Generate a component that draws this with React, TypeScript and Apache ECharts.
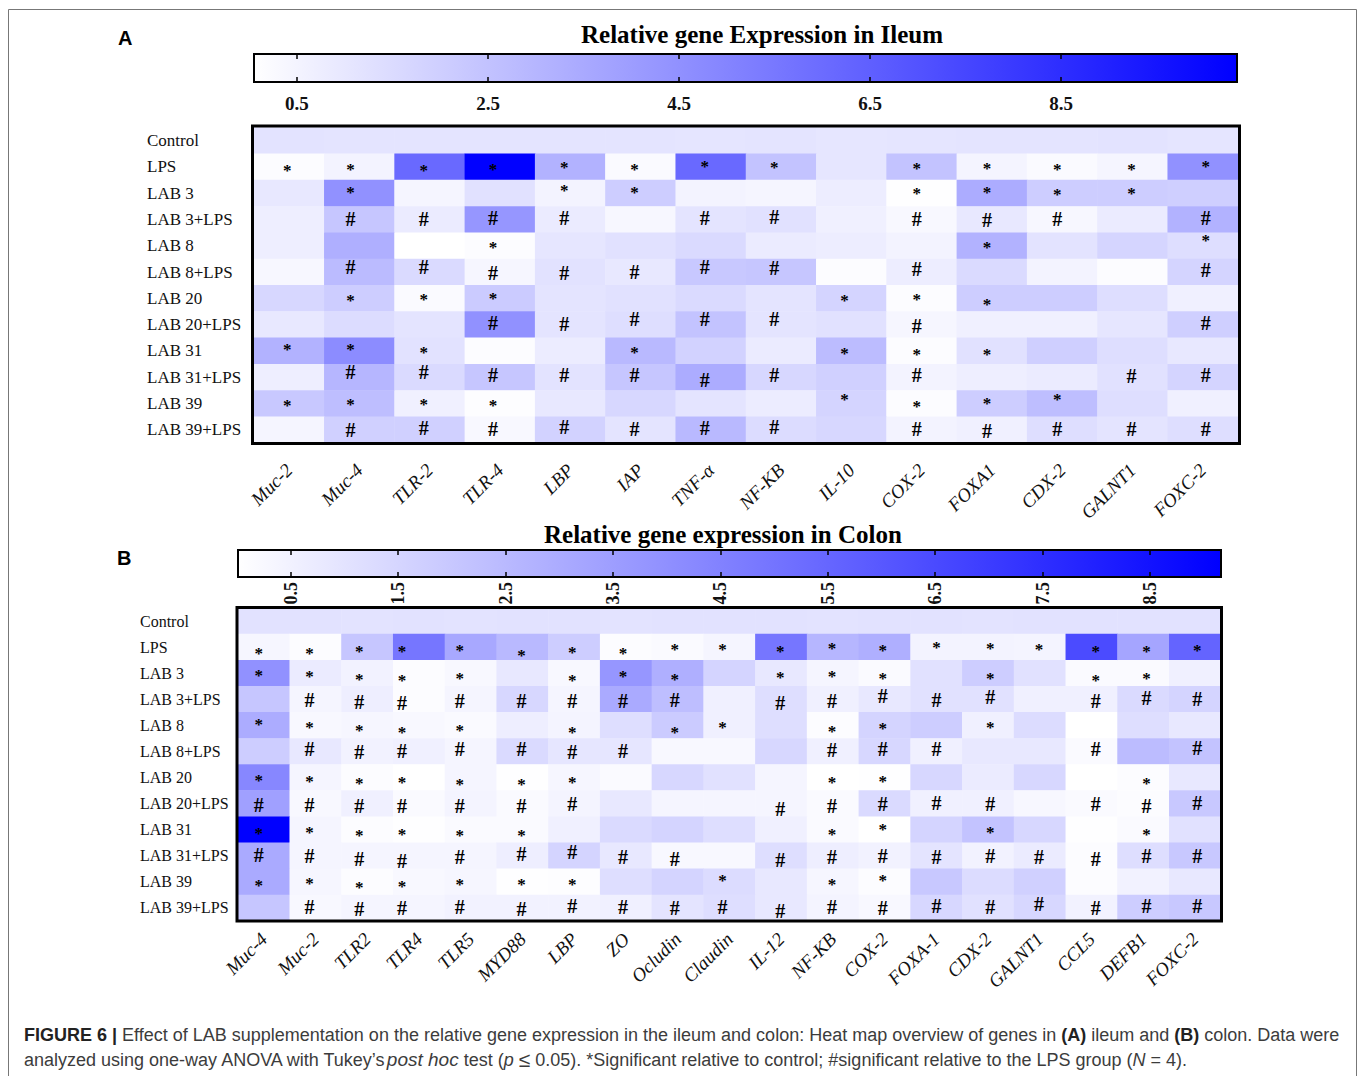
import React, { useEffect, useRef } from "react";
import * as echarts from "echarts";

const rowLabels = ["Control","LPS","LAB 3","LAB 3+LPS","LAB 8","LAB 8+LPS","LAB 20","LAB 20+LPS","LAB 31","LAB 31+LPS","LAB 39","LAB 39+LPS"];
const ileumGenes = ["Muc-2","Muc-4","TLR-2","TLR-4","LBP","IAP","TNF-α","NF-KB","IL-10","COX-2","FOXA1","CDX-2","GALNT1","FOXC-2"];
const colonGenes = ["Muc-4","Muc-2","TLR2","TLR4","TLR5","MYD88","LBP","ZO","Ocludin","Claudin","IL-12","NF-KB","COX-2","FOXA-1","CDX-2","GALNT1","CCL5","DEFB1","FOXC-2"];

const ileumValues = [
  [1.2,1.15,1.15,1.15,1.15,1.15,1.1,1.15,1.05,1.1,1.15,1.15,1.2,1.1],
  [0.17,0.53,6.1,10.3,3.16,0.25,6.1,2.47,1.05,2.47,0.5,0.25,0.45,4.49],
  [0.98,4.49,0.45,1.26,0.53,2.07,0.53,0.45,0.78,0.09,3.4,2.07,2.07,2],
  [0.74,2.35,0.85,4.29,0.85,0.37,1.14,1.26,0.65,0.33,0.98,0.37,0.85,3.16],
  [0.74,3.28,0.05,0.17,1.05,1.26,1.54,0.85,0.78,0.53,3.16,1.18,1.74,1.38],
  [0.37,2.8,1.54,0.41,1.22,0.98,2.27,2.35,0.17,0.78,1.54,0.53,0.17,1.78],
  [1.66,2.07,0.25,2.15,1.14,1.26,1.54,1.14,1.78,0.17,2.07,2.07,1.38,0.65],
  [0.98,1.46,1.14,4.49,1.14,1.38,2.47,1.14,1.26,0.41,0.65,0.65,1.05,2],
  [3.16,4.69,1.22,0.17,0.82,2.87,1.87,0.85,2.75,0.17,1.26,2,1.38,0.98],
  [0.74,3,1.54,2.35,1.18,2.35,3.4,1.66,1.94,0.53,0.74,0.85,1.26,1.78],
  [2.27,2.67,0.65,0.13,0.98,1.66,1.14,0.82,1.78,0.17,2.07,2.67,1.38,0.65],
  [0.45,1.94,1.94,0.33,1.87,1.14,2.87,1.46,1.66,0.53,0.65,1.38,1.14,1.38],
];
const colonValues = [
  [1.04,1.04,1.0,1.04,1.0,1.04,1.04,1.0,1.04,1.04,1.04,1.0,1.04,1.04,1.0,1.04,1.04,1.04,1.04],
  [0.32,0.11,2.05,4.92,3.12,2.51,1.8,0.11,0.18,0.36,4.92,2.62,2.87,0.43,0.43,0.4,6.46,3.23,5.57],
  [3.95,0.72,0.47,0.11,0.25,0.83,0.25,3.77,2.87,1.54,0.83,0.36,0.18,1.08,1.8,1.08,0.18,0.18,0.54],
  [2.05,0.36,0.61,0.11,0.36,1.44,0.36,3.05,2.33,0.54,1.18,0.54,0.83,1.08,1.08,0.54,0.54,1.33,1.54],
  [2.98,0.25,0.32,0.25,0.18,0.61,0.4,1.18,1.87,0.54,1.18,0.11,1.54,1.8,0.54,1.26,0,1.18,0.83],
  [1.8,0.83,0.47,0.54,0.36,1.33,0.9,0.9,0.25,0.25,1.44,0.54,1.44,0.54,0.83,0.83,0.18,2.41,2.15],
  [4.31,0.36,0.11,0,0.36,0.04,0.32,0.18,1.44,1.08,0.36,0,0.04,1.44,0.72,1.44,0,0.11,0.83],
  [3.41,0.25,0.54,0.18,0.4,0.18,0.4,0.83,0.36,0.36,0.36,0.18,1.33,0.54,0.54,0.29,0.18,0.11,1.98],
  [9.16,0.36,0.11,0.04,0.18,0.18,0.54,1.33,1.54,1.18,0.54,0.18,0,1.54,2.15,1.44,0.04,0.18,1.08],
  [3.05,0.36,0.36,0.36,0.36,0.61,1.54,0.83,0.25,0.25,1.18,0.61,0.47,0.97,0.47,0.72,0.11,1.18,1.98],
  [3.05,0.32,0.11,0.25,0.32,0.04,0.07,1.18,1.54,1.26,0.83,0.32,0.11,1.98,1.26,1.69,0.11,0.47,0.83],
  [2.05,0.25,0.36,0.36,0.47,0.47,0.47,0.54,0.97,1.18,0.83,0.4,0.25,1.44,1.08,1.44,0.47,1.8,1.98],
];
const ileumMarks = ["..............","********.*****",".*..**...****.",".####.##.###.#","...*......*..*",".#######.#...#",".***....***...","...#####.#...#","***..*..***...",".#######.#..##","****....****..",".#######.#####"];
const colonMarks = ["...................","*******************","*****.***.***.*.**.",".########.#####.###","*****.*.**.**.*....",".#######...###..#.#","*******....**....*.","#######...#####.###","******.....**.*..*.","#########.#########","*******..*.**......",".##################"];
const ileumTicks = [0.5,2.5,4.5,6.5,8.5];
const colonTicks = [0.5,1.5,2.5,3.5,4.5,5.5,6.5,7.5,8.5];
const ileumRange = [0.05,10.34];
const colonRange = [0.01,9.16];

// Small hand-placed nudges of the significance marks inside their cells (annotation style, not data)
const ileumMarkDx = [-2,-9,-6,-7,-6,-6,-6,-7,-7,-5,-5,-5,-1,3];
const colonMarkDx = [-5,-6,-8,-17,-11,-1,-2,-3,-3,-7,-1,-1,-2,0,2,-1,4,3,2];
const ileumMarkDy = [
  [0,0,0,0,0,0,0,0,0,0,0,0,0,0],
  [2,1,2,1,-1,1,-2,-1,0,0,0,1,1,-2],
  [0,-3,0,0,-5,-3,0,0,0,-2,-3,-1,-2,0],
  [0,-1,-1,-2,-2,0,-2,-3,0,-1,0,-1,0,-2],
  [0,0,0,0,0,0,0,0,0,0,0,0,0,-7],
  [0,-5,-5,1,1,0,-5,-4,0,-3,0,0,0,-2],
  [0,0,-1,-2,0,0,0,0,0,-1,4,0,0,0],
  [0,0,0,-2,-1,-6,-6,-6,0,1,0,0,0,-2],
  [-3,-3,0,0,0,0,0,0,1,2,2,0,0,0],
  [0,-5,-5,-2,-2,-2,3,-2,0,-2,0,0,-1,-2],
  [0,-1,-1,0,0,0,0,0,-6,1,-2,-6,0,0],
  [0,0,-2,-1,-3,-1,-2,-3,0,-1,1,-1,-1,-1],
];
const colonMarkDy = [
  [0,0,0,0,0,0,0,0,0,0,0,0,0,0,0,0,0,0,0],
  [4,4,2,2,1,6,3,4,0,0,2,-1,1,-2,-1,0,2,2,1],
  [0,1,4,5,3,0,5,1,4,0,2,1,3,0,3,0,5,3,0],
  [0,1,3,4,2,2,2,2,1,0,4,2,-3,1,-2,0,2,-1,0],
  [-3,0,3,5,3,0,5,0,5,0,0,4,1,0,0,0,0,0,0],
  [0,-2,1,0,-2,-2,1,0,0,0,0,-1,-2,-2,0,0,-2,0,-3],
  [1,2,4,3,5,5,3,0,0,0,0,3,2,0,0,0,0,4,0],
  [1,1,2,2,2,2,0,0,0,0,5,2,0,-1,0,0,0,2,-1],
  [2,1,4,3,4,4,0,0,0,0,0,3,-2,0,1,0,0,3,0],
  [-1,0,3,5,1,-2,-4,1,3,0,4,1,0,1,0,1,3,0,0],
  [2,0,4,3,1,1,1,0,0,-3,0,1,-3,0,0,0,0,0,0],
  [0,-1,1,0,-1,1,-2,-1,0,-1,3,-1,0,-2,-1,-4,0,-2,-2],
];

const SERIF = "'Liberation Serif', serif";
const SANS = "'Liberation Sans', Arial, sans-serif";
const BLUE_RAMP = ["#ffffff", "#0000ff"];

function cells(values: number[][], marks: string[], dx: number[], dy: number[][]) {
  const out: any[] = [];
  values.forEach((row, r) =>
    row.forEach((v, c) => {
      const m = marks[r][c];
      out.push({
        value: [c, r, v, m === "." ? "" : m],
        label: { offset: [dx[c], dy[r][c] + (m === "*" ? 2 : 0)], fontSize: m === "#" ? 20 : 17 },
      });
    })
  );
  return out;
}

function heatSeries(xAxisIndex: number, yAxisIndex: number, values: number[][], marks: string[], dx: number[], dy: number[][]) {
  return {
    type: "heatmap",
    xAxisIndex,
    yAxisIndex,
    data: cells(values, marks, dx, dy),
    itemStyle: { borderWidth: 0 },
    label: {
      show: true,
      formatter: (p: any) => p.data.value[3],
      fontFamily: SERIF,
      fontWeight: "bold",
      lineHeight: 12,
      color: "#000",
    },
    emphasis: { disabled: true },
  };
}

const gradient = () =>
  new echarts.graphic.LinearGradient(0, 0, 1, 0, [
    { offset: 0, color: BLUE_RAMP[0] },
    { offset: 1, color: BLUE_RAMP[1] },
  ]);

function barGrid(left: number, top: number, w: number, h: number) {
  return { left, top, width: w, height: h, show: true, backgroundColor: gradient(), borderColor: "#000", borderWidth: 2 };
}

function barAxes(gridIndex: number, range: number[], ticks: number[], rotate: number, margin: number, fontSize: number) {
  const base = {
    type: "value",
    gridIndex,
    min: range[0],
    max: range[1],
    splitLine: { show: false },
    axisLine: { show: false },
  };
  const axisTick = { show: true, inside: true, length: 5, customValues: ticks, lineStyle: { color: "#000", width: 1.5 } };
  return [
    {
      ...base,
      position: "bottom",
      axisTick,
      axisLabel: {
        show: true, customValues: ticks, rotate, margin,
        formatter: (v: number) => v.toFixed(1),
        fontFamily: SERIF, fontWeight: "bold", fontSize, color: "#111",
      },
    },
    { ...base, position: "top", axisTick, axisLabel: { show: false } },
  ];
}

function heatAxes(gridIndex: number, genes: string[], yMargin: number, xMargin: number, yFont: number) {
  return {
    x: {
      type: "category", gridIndex, data: genes,
      axisLine: { show: false }, axisTick: { show: false }, splitArea: { show: false },
      axisLabel: { interval: 0, rotate: 45, margin: xMargin, fontFamily: SERIF, fontStyle: "italic", fontSize: 19, color: "#111" },
    },
    y: {
      type: "category", gridIndex, data: rowLabels, inverse: true,
      axisLine: { show: false }, axisTick: { show: false }, splitArea: { show: false },
      axisLabel: { interval: 0, align: "left", margin: yMargin, fontFamily: SERIF, fontSize: yFont, color: "#111" },
    },
  };
}

export default function App() {
  const ref = useRef<HTMLDivElement>(null);
  useEffect(() => {
    const chart = echarts.init(ref.current!, undefined, { renderer: "svg" });
    const a = heatAxes(2, ileumGenes, 107, 24, 17);
    const b = heatAxes(3, colonGenes, 98, 15, 16);
    const noY = (gridIndex: number) => ({ type: "value", gridIndex, min: 0, max: 1, show: false });
    chart.setOption({
      animation: false,
      backgroundColor: "#fff",
      title: [
        { text: "A", left: 118, top: 28, padding: 0, textStyle: { fontFamily: SANS, fontWeight: "bold", fontSize: 20, color: "#000" } },
        { text: "B", left: 117, top: 548, padding: 0, textStyle: { fontFamily: SANS, fontWeight: "bold", fontSize: 20, color: "#000" } },
        { text: "Relative gene Expression in Ileum", left: 581, top: 22, padding: 0, textStyle: { fontFamily: SERIF, fontWeight: "bold", fontSize: 25, color: "#000" } },
        { text: "Relative gene expression in Colon", left: 544, top: 522, padding: 0, textStyle: { fontFamily: SERIF, fontWeight: "bold", fontSize: 25, color: "#000" } },
      ],
      grid: [
        barGrid(254, 54, 983, 28),
        barGrid(238, 550, 983, 27),
        { left: 254, top: 127.5, width: 984, height: 315.5 },
        { left: 238, top: 608, width: 983, height: 313 },
      ],
      xAxis: [
        ...barAxes(0, ileumRange, ileumTicks, 0, 12, 19),
        ...barAxes(1, colonRange, colonTicks, 90, 5, 18),
        a.x,
        b.x,
      ],
      yAxis: [noY(0), noY(1), a.y, b.y],
      visualMap: [
        { show: false, type: "continuous", seriesIndex: 0, dimension: 2, min: ileumRange[0], max: ileumRange[1], inRange: { color: BLUE_RAMP } },
        { show: false, type: "continuous", seriesIndex: 1, dimension: 2, min: colonRange[0], max: colonRange[1], inRange: { color: BLUE_RAMP } },
      ],
      series: [
        heatSeries(4, 2, ileumValues, ileumMarks, ileumMarkDx, ileumMarkDy),
        heatSeries(5, 3, colonValues, colonMarks, colonMarkDx, colonMarkDy),
      ],
      graphic: [
        { type: "polyline", silent: true, shape: { points: [[8.5, 1076], [8.5, 9.5], [1356.5, 9.5], [1356.5, 1076]] }, style: { fill: "none", stroke: "#777", lineWidth: 1 } },
        { type: "rect", silent: true, z: 10, shape: { x: 252.5, y: 126, width: 987, height: 317.5 }, style: { fill: "none", stroke: "#000", lineWidth: 3 } },
        { type: "rect", silent: true, z: 10, shape: { x: 237, y: 607.5, width: 984.5, height: 313.5 }, style: { fill: "none", stroke: "#000", lineWidth: 3 } },
        {
          type: "text", left: 24, top: 1022, silent: true,
          style: {
            text:
              "{b|FIGURE 6 |} Effect of LAB supplementation on the relative gene expression in the ileum and colon: Heat map overview of genes in {b|(A)} ileum and {b|(B)} colon. Data were\nanalyzed using one-way ANOVA with Tukey’s{h|post hoc} test ({i|p} {le|≤} 0.05). *Significant relative to control; #significant relative to the LPS group ({i|N} = 4).",
            fontFamily: SANS, fontSize: 18, fill: "#3c3c3c", lineHeight: 25,
            rich: {
              b: { fontFamily: SANS, fontWeight: "bold", fontSize: 18, fill: "#222", lineHeight: 25 },
              h: { fontFamily: SANS, fontStyle: "italic", fontSize: 19, fill: "#3c3c3c", lineHeight: 25 },
              i: { fontFamily: SANS, fontStyle: "italic", fontSize: 18, fill: "#3c3c3c", lineHeight: 25 },
              le: { fontFamily: SANS, fontSize: 21, fill: "#3c3c3c", lineHeight: 25 },
            },
          },
        },
      ],
    });
    return () => chart.dispose();
  }, []);
  return <div ref={ref} style={{ position: "absolute", left: 0, top: 0, width: 1360, height: 1076 }} />;
}
